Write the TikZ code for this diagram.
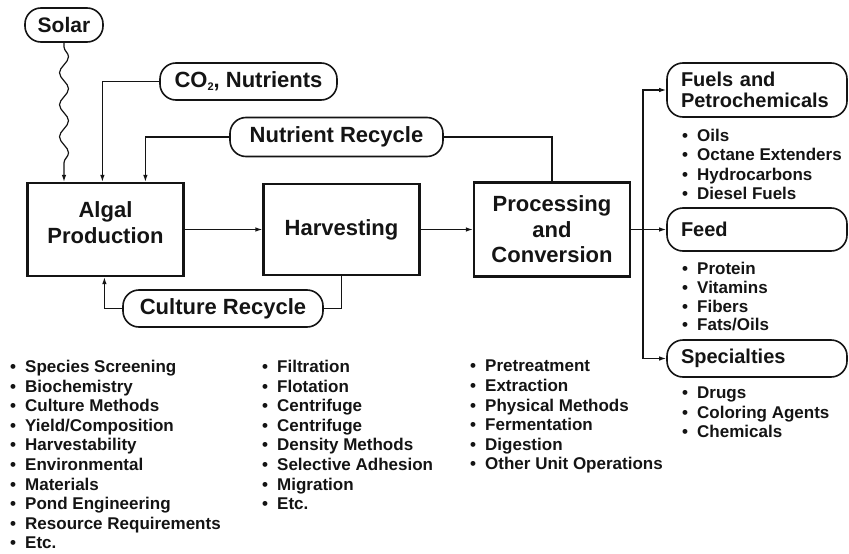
\documentclass[tikz,border=0pt]{standalone}
\usepackage{fontspec}
\setmainfont{Liberation Sans}
\usetikzlibrary{arrows.meta,decorations.pathmorphing}
\definecolor{algInk}{HTML}{141414}
\tikzset{
  alg box/.style={draw=algInk, line width=2.2pt, minimum width=156pt, inner sep=0pt, align=center, font=\fontsize{22}{25.5}\selectfont\bfseries, text=algInk},
  alg box text/.style={inner sep=0pt, align=center, font=\fontsize{22}{26}\selectfont\bfseries, text=algInk},
  alg pill/.style={draw=algInk, line width=1.6pt, rounded corners=16pt, minimum height=37pt, inner sep=0pt, font=\fontsize{22}{24}\selectfont\bfseries, text=algInk},
  alg product/.style={alg pill, minimum width=180pt, text width=152pt, inner xsep=14pt, align=left, font=\fontsize{20}{21}\selectfont\bfseries},
  alg link/.style={draw=algInk, line width=1.2pt},
  alg arrow/.style={alg link, -{Latex[length=7pt,width=4.5pt]}},
  alg list/.style={anchor=north west, inner sep=0pt, align=left, font=\fontsize{17}{19.6}\selectfont\bfseries, text=algInk},
}
\newcommand{\algitem}{\makebox[15pt][l]{\textbullet}}
\newcommand{\algsub}[1]{\raisebox{-3pt}{\fontsize{11}{11}\selectfont #1}}

\begin{document}
\begin{tikzpicture}[x=1pt,y=-1pt]
  \useasboundingbox (0,0) rectangle (849,554);

  % main chain
  \node[alg box, minimum height=93pt] (algal) at (105.5,229.5) {};
  \node[alg box text] (algal text) at (105.5,223) {Algal\\Production};
  \node[alg box, minimum height=91pt] (harv) at (341.5,229.5) {Harvesting};
  \node[alg box, minimum height=94pt] (proc) at (552,229.5) {Processing\\and\\Conversion};

  % inputs and recycles
  \node[alg pill, minimum width=78pt, minimum height=34pt, font=\fontsize{21}{23}\selectfont\bfseries] (solar) at (64,25) {Solar};
  \node[alg pill, minimum width=177pt] (co2) at (248.5,81.5) {CO\algsub{2}, Nutrients};
  \node[alg pill, minimum width=213pt, minimum height=39pt] (nutrec) at (336.5,137) {Nutrient Recycle};
  \node[alg pill, minimum width=200pt] (culture) at (223,308.5) {Culture Recycle};

  % products
  \node[alg product, minimum height=54pt] (fuels) at (757,90) {Fuels and\\Petrochemicals};
  \node[alg product, minimum height=43pt] (feed) at (757,229.5) {Feed};
  \node[alg product, minimum height=37pt] (spec) at (757,358.5) {Specialties};
  \coordinate (trunk) at (643,229.5);

  \draw[alg arrow, decorate, decoration={snake, amplitude=4.5pt, segment length=32pt, pre length=4pt, post length=9pt}]
    (solar.south) -- (solar.south |- algal.north);
  \draw[alg arrow] (co2.west) -| ([xshift=76pt]algal.north west);
  \draw[alg arrow] (nutrec.west) -| ([xshift=119pt]algal.north west);
  \draw[alg link] (nutrec.east) -| (proc.north);
  \draw[alg arrow] (algal.east) -- (harv.west);
  \draw[alg arrow] (harv.east) -- (proc.west);
  \draw[alg link] (harv.south) |- (culture.east);
  \draw[alg arrow] (culture.west) -| ([xshift=78pt]algal.south west);
  \draw[alg arrow] (proc.east) -- (feed.west);
  \draw[alg arrow] (trunk) |- (fuels.west);
  \draw[alg arrow] (trunk) |- (spec.west);

  % lists
  \node[alg list] (algal list) at (10,360) {\algitem Species Screening\\\algitem Biochemistry\\\algitem Culture Methods\\\algitem Yield/Composition\\\algitem Harvestability\\\algitem Environmental\\\algitem Materials\\\algitem Pond Engineering\\\algitem Resource Requirements\\\algitem Etc.};
  \node[alg list] (harv list) at (262,360) {\algitem Filtration\\\algitem Flotation\\\algitem Centrifuge\\\algitem Centrifuge\\\algitem Density Methods\\\algitem Selective Adhesion\\\algitem Migration\\\algitem Etc.};
  \node[alg list] (proc list) at (470,360) {\algitem Pretreatment\\\algitem Extraction\\\algitem Physical Methods\\\algitem Fermentation\\\algitem Digestion\\\algitem Other Unit Operations};
  \node[alg list, font=\fontsize{17}{19.3}\selectfont\bfseries] (fuels list) at (682,129) {\algitem Oils\\\algitem Octane Extenders\\\algitem Hydrocarbons\\\algitem Diesel Fuels};
  \node[alg list, font=\fontsize{17}{18.8}\selectfont\bfseries] (feed list) at (682,262) {\algitem Protein\\\algitem Vitamins\\\algitem Fibers\\\algitem Fats/Oils};
  \node[alg list, font=\fontsize{17}{19.5}\selectfont\bfseries] (spec list) at (682,387) {\algitem Drugs\\\algitem Coloring Agents\\\algitem Chemicals};
\end{tikzpicture}
\end{document}
